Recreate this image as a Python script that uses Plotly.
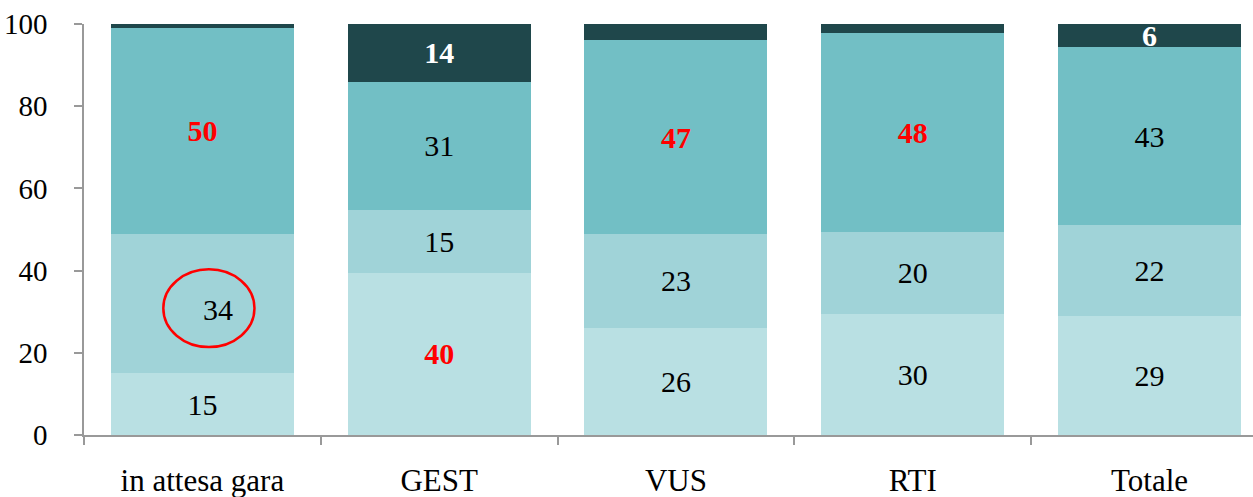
import plotly.graph_objects as go

categories = ["in attesa gara", "GEST", "VUS", "RTI", "Totale"]
seg1 = [15, 39.5, 26, 29.5, 29]
seg2 = [34, 15.3, 23, 20, 22]
seg3 = [50, 31.2, 47, 48.4, 43.4]
seg4 = [1, 14, 4, 2.1, 5.6]
y_ticks = [0, 20, 40, 60, 80, 100]

colors = ["#b9e0e3", "#a0d3d8", "#72bfc5", "#1f474b"]
FONT = "Liberation Serif"
FS = 30

series = [seg1, seg2, seg3, seg4]

def rnd(v):
    return str(int(v + 0.5))

def is_max(i, v):
    return categories[i] != "Totale" and v == max(s[i] for s in series)

def labels(vals, k):
    out = []
    for i, v in enumerate(vals):
        if v < 5:
            out.append("")
        elif k == 3 or is_max(i, v):
            out.append(f"<b>{rnd(v)}</b>")
        else:
            out.append(rnd(v))
    return out

def label_colors(vals, k):
    out = []
    for i, v in enumerate(vals):
        if k == 3:
            out.append("white")
        elif is_max(i, v):
            out.append("#ff0000")
        else:
            out.append("black")
    return out

fig = go.Figure()
for k, vals in enumerate(series):
    txt = labels(vals, k)
    if k == 1:
        txt[0] = ""  # placed as annotation (offset label)
    fig.add_trace(go.Bar(
        x=categories, y=vals, marker=dict(color=colors[k], line=dict(width=0)),
        text=txt, textposition="inside", insidetextanchor="middle",
        constraintext="none", textangle=0,
        textfont=dict(family=FONT, size=FS, color=label_colors(vals, k)),
        hoverinfo="skip", showlegend=False,
    ))

# offset label "34" and circle around it
mid = seg1[0] + seg2[0] / 2
fig.add_annotation(x=categories[0], y=mid, text=rnd(seg2[0]), showarrow=False,
                   xshift=16, yshift=-6,
                   font=dict(family=FONT, size=FS, color="black"))
fig.add_shape(type="circle", xref="x", yref="y",
              x0=-0.165, x1=0.22, y0=mid - 10.6, y1=mid + 8.3,
              line=dict(color="#ff0000", width=2.5))

fig.update_layout(
    barmode="stack", bargap=0.227,
    width=1253, height=497,
    margin=dict(l=84, r=0, t=24, b=62),
    plot_bgcolor="white", paper_bgcolor="white",
    font=dict(family=FONT, size=FS, color="black"),
)
fig.update_xaxes(
    range=[-0.5, 4.437], showline=True, linecolor="#999999", linewidth=1.5,
    ticks="outside", tickson="boundaries", ticklen=8, tickcolor="#999999", tickwidth=1.5,
    tickfont=dict(family=FONT, size=31, color="black"), ticklabelstandoff=17,
    showgrid=False, zeroline=False, automargin=False,
)
fig.update_yaxes(
    range=[0, 100], tickvals=y_ticks, showline=True, linecolor="#999999", linewidth=1.5,
    ticks="outside", ticklen=8, tickcolor="#999999", tickwidth=1.5,
    tickfont=dict(family=FONT, size=29, color="black"), ticklabelstandoff=21,
    showgrid=False, zeroline=False, automargin=False,
)

fig.write_html("out.html", config={"displayModeBar": False},
               post_script="document.body.style.margin='0';document.body.style.overflow='hidden';")
